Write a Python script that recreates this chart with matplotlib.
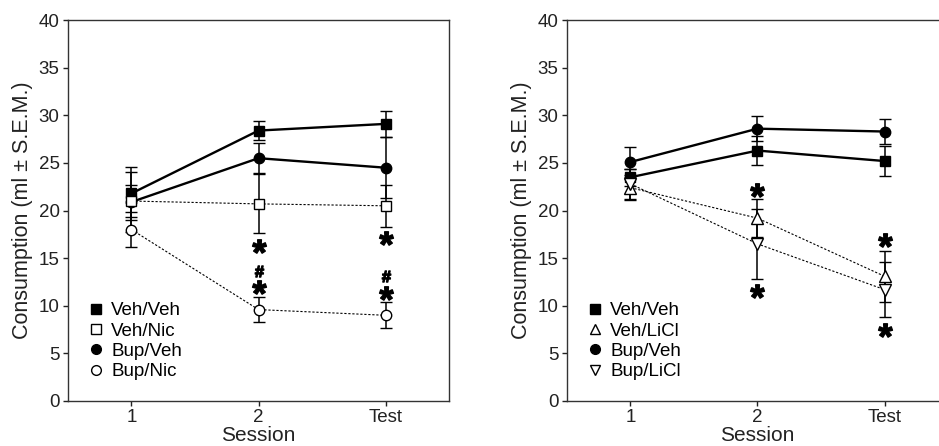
import matplotlib
matplotlib.use('Agg')
import matplotlib.pyplot as plt
from matplotlib.lines import Line2D

plt.rcParams['font.family'] = ['Liberation Sans', 'DejaVu Sans']
plt.rcParams['mathtext.fontset'] = 'custom'
plt.rcParams['mathtext.rm'] = 'Liberation Sans'
plt.rcParams['mathtext.bf'] = 'Liberation Sans:bold'

sessions = [1, 2, 3]
session_labels = ['1', '2', 'Test']

# left panel: nicotine
veh_veh = [21.8, 28.4, 29.1]
veh_veh_err = [2.8, 1.0, 1.4]
veh_nic = [21.0, 20.7, 20.5]
veh_nic_err = [1.7, 3.1, 2.2]
bup_veh = [20.9, 25.5, 24.5]
bup_veh_err = [3.2, 1.6, 3.2]
bup_nic = [18.0, 9.6, 9.0]
bup_nic_err = [1.8, 1.3, 1.35]
left_star_x = [2, 2, 3, 3]
left_star_y = [16.3, 12.0, 17.1, 11.3]
left_hash_x = [2, 3]
left_hash_y = [13.7, 13.1]

# right panel: LiCl
veh_veh_r = [23.5, 26.3, 25.2]
veh_veh_r_err = [0.9, 1.5, 1.6]
veh_licl = [22.4, 19.2, 13.1]
veh_licl_err = [1.3, 2.0, 2.7]
bup_veh_r = [25.1, 28.6, 28.3]
bup_veh_r_err = [1.6, 1.3, 1.3]
bup_licl = [22.8, 16.5, 11.7]
bup_licl_err = [1.6, 3.7, 2.9]
right_star_x = [2, 2, 3, 3]
right_star_y = [22.2, 11.5, 16.9, 7.5]

fig = plt.figure(figsize=(9.39, 4.46), dpi=100)
ax1 = fig.add_axes([0.0724, 0.1009, 0.4058, 0.854])
ax2 = fig.add_axes([0.6038, 0.1009, 0.4058, 0.854])

solid = dict(color='black', lw=1.7, ls='-')
dotted = dict(color='black', lw=0.8, ls=(0, (2, 1.6)))
eb = dict(ecolor='black', elinewidth=1.1, capsize=4.5, capthick=1.3)


def series(ax, y, err, marker, filled, style, ms=7.5):
    fc = 'black' if filled else 'white'
    ax.errorbar(sessions, y, yerr=err, marker=marker, ms=ms, mfc=fc,
                mec='black', mew=1.0, zorder=3 if filled else 4, **style, **eb)


series(ax1, veh_nic, veh_nic_err, 's', False, dotted)
series(ax1, bup_nic, bup_nic_err, 'o', False, dotted)
series(ax1, bup_veh, bup_veh_err, 'o', True, solid)
series(ax1, veh_veh, veh_veh_err, 's', True, solid)

ax1.plot(left_star_x, left_star_y, ls='none', marker=r'$\mathbf{*}$', ms=10, color='black')
ax1.plot(left_hash_x, left_hash_y, ls='none', marker=r'$\mathbf{\#}$', ms=8, color='black')

series(ax2, veh_licl, veh_licl_err, '^', False, dotted, ms=8)
series(ax2, bup_licl, bup_licl_err, 'v', False, dotted, ms=8)
series(ax2, veh_veh_r, veh_veh_r_err, 's', True, solid)
series(ax2, bup_veh_r, bup_veh_r_err, 'o', True, solid)

ax2.plot(right_star_x, right_star_y, ls='none', marker=r'$\mathbf{*}$', ms=10, color='black')


def legend(ax, labels, markers, fills):
    handles = [Line2D([], [], ls='none', marker=m, ms=7, mfc='black' if f else 'white',
                      mec='black', mew=1.0) for m, f in zip(markers, fills)]
    ax.legend(handles, labels, loc='lower left', bbox_to_anchor=(0.035, 0.035),
              frameon=False, fontsize=13.5, handlelength=0.8, handletextpad=0.4,
              labelspacing=0.17, borderaxespad=0)


legend(ax1, ['Veh/Veh', 'Veh/Nic', 'Bup/Veh', 'Bup/Nic'],
       ['s', 's', 'o', 'o'], [True, False, True, False])
legend(ax2, ['Veh/Veh', 'Veh/LiCl', 'Bup/Veh', 'Bup/LiCl'],
       ['s', '^', 'o', 'v'], [True, False, True, False])

for ax in (ax1, ax2):
    ax.set_xlim(0.5, 3.5)
    ax.set_ylim(0, 40)
    ax.set_yticks(range(0, 41, 5))
    ax.set_xticks(sessions)
    ax.set_xticklabels(session_labels)
    ax.tick_params(direction='out', length=3.5, width=1.0, labelsize=13.5, pad=2.5,
                   top=False, right=False, colors='#222222', labelcolor='#222222')
    for sp in ax.spines.values():
        sp.set_linewidth(1.0)
        sp.set_color('#333333')
    ax.set_xlabel('Session', fontsize=15, labelpad=0, color='#222222')
    ax.set_ylabel('Consumption (ml ± S.E.M.)', fontsize=15.5, labelpad=4, color='#222222')

fig.savefig('out.png', dpi=100)
